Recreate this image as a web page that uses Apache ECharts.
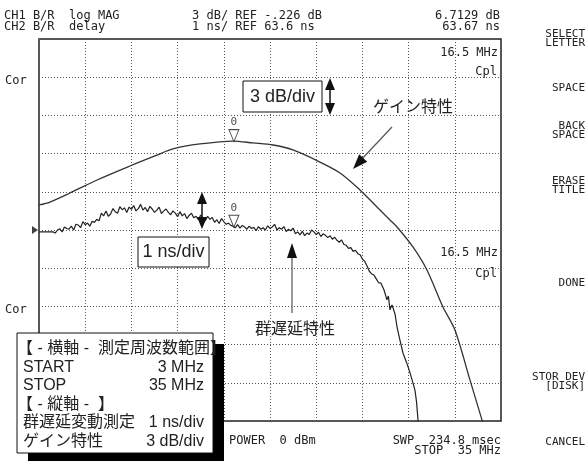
<!DOCTYPE html>
<html>
<head>
<meta charset="utf-8">
<script src="https://cdn.jsdelivr.net/npm/echarts@6/dist/echarts.min.js"></script>
<style>
  html, body { margin: 0; padding: 0; background: #fff; }
  #main { width: 587px; height: 461px; }
</style>
</head>
<body>
<div id="main"></div>
<script>
// sweep / scale settings
const startMHz = 3;
const stopMHz = 35;
const dbPerDiv = 3;
const nsPerDiv = 1;
const refGain = -0.226;   // dB at centre line
const refDelay = 63.6;    // ns at centre line

// marker 0 readout
const markerFreq = 16.5;
const markerGain = 6.7129;
const markerDelay = 63.67;

// CH1 gain trace (log MAG)
const gainFreq = [3.0, 3.76, 5.15, 7.02, 9.3, 11.03, 12.28, 14.15, 16.44, 17.82, 19.21, 20.59,
  22.46, 23.85, 25.23, 26.41, 27.31, 27.8, 28.9, 29.87, 30.98, 31.81, 32.85, 33.68, 34.24];
const gainDb = [1.74, 1.97, 2.68, 3.7, 4.8, 5.59, 6.14, 6.53, 6.76, 6.61, 6.45, 6.06,
  5.11, 4.25, 2.92, 1.58, 0.56, 0.01, -1.56, -3.37, -6.27, -8.08, -12.0, -15.14, -17.26];

// CH2 group delay trace
const delayFreq = [3.0, 3.32, 3.64, 3.96,
  4.12, 4.28, 4.44, 4.6, 4.76, 4.92, 5.08, 5.24, 5.4, 5.56,
  5.72, 5.88, 6.04, 6.2, 6.36, 6.52, 6.68, 6.84, 7.0, 7.16,
  7.32, 7.48, 7.64, 7.8, 7.96, 8.12, 8.28, 8.44, 8.6, 8.76,
  8.92, 9.08, 9.24, 9.4, 9.56, 9.72, 9.88, 10.04, 10.2, 10.36,
  10.52, 10.68, 10.84, 11.0, 11.16, 11.32, 11.48, 11.64, 11.8, 11.96,
  12.12, 12.28, 12.44, 12.6, 12.76, 12.92, 13.08, 13.24, 13.4, 13.56,
  13.72, 13.88, 14.04, 14.2, 14.36, 14.52, 14.68, 14.84, 15.0, 15.16,
  15.32, 15.48, 15.64, 15.8, 15.96, 16.12, 16.28, 16.44, 16.6, 16.76,
  16.92, 17.08, 17.24, 17.4, 17.56, 17.72, 17.88, 18.04, 18.2, 18.36,
  18.52, 18.68, 18.84, 19.0, 19.16, 19.32, 19.48, 19.64, 19.8, 19.96,
  20.12, 20.28, 20.44, 20.6, 20.76, 20.92, 21.08, 21.24, 21.4, 21.56,
  21.72, 21.88, 22.04, 22.2, 22.36, 22.52, 22.68, 22.84, 23.0, 23.16,
  23.32, 23.48, 23.64, 23.8, 23.96, 24.12, 24.28, 24.44, 24.6, 24.76,
  24.92, 25.08,
  25.24, 25.4, 25.56, 25.72, 25.88, 26.04, 26.2, 26.36, 26.52, 26.68,
  26.9, 27.1, 27.2, 27.31, 27.45, 27.66, 27.8, 28.0, 28.21, 28.45,
  28.7, 28.9, 29.04, 29.15, 29.25, 29.35];
const delayNs = [63.55, 63.55, 63.55, 63.55,
  63.52, 63.6, 63.63, 63.55, 63.68, 63.64, 63.62, 63.7, 63.6, 63.75,
  63.73, 63.66, 63.82, 63.74, 63.78, 63.7, 63.83, 63.8, 63.88, 63.84,
  64.04, 63.97, 64.1, 63.96, 64.02, 64.16, 64.08, 64.04, 64.21, 64.13,
  64.18, 64.06, 64.2, 64.14, 64.24, 64.1, 64.16, 64.27, 64.12, 64.19,
  64.08, 64.22, 64.15, 64.06, 64.12, 64.2, 64.03, 64.1, 64.15, 64.06,
  64.0, 64.1, 64.04, 63.95, 64.08, 63.97, 64.03, 63.9, 63.98, 64.04,
  63.92, 63.96, 63.87, 63.99, 63.9, 63.84, 63.96, 63.88, 63.93, 63.8,
  63.87, 63.77, 63.9, 63.82, 63.75, 63.78, 63.72, 63.7, 63.66, 63.74,
  63.65, 63.72, 63.68, 63.62, 63.7, 63.64, 63.67, 63.58, 63.69, 63.62,
  63.66, 63.6, 63.71, 63.64, 63.68, 63.75, 63.6, 63.66, 63.62, 63.69,
  63.56, 63.62, 63.58, 63.65, 63.5, 63.55, 63.47, 63.57, 63.45, 63.52,
  63.48, 63.6, 63.55, 63.48, 63.54, 63.43, 63.5, 63.46, 63.4, 63.45,
  63.36, 63.41, 63.33, 63.28, 63.34, 63.22, 63.2, 63.12, 63.14, 63.04,
  63.07, 62.98,
  62.95, 62.84, 62.78, 62.66, 62.52, 62.45, 62.42, 62.32, 62.22, 62.21,
  62.03, 61.77, 61.87, 61.51, 61.64, 61.4, 61.06, 60.72, 60.38, 60.14,
  59.86, 59.6, 59.41, 59.1, 58.63, 58.1];

// text block bottom-left
const noteRows = [
  ['【 - 横軸 -  測定周波数範囲】', ''],
  ['START', '3 MHz'],
  ['STOP', '35 MHz'],
  ['【 - 縦軸 -  】', ''],
  ['群遅延変動測定', '1 ns/div'],
  ['ゲイン特性', '3 dB/div']
];

// soft keys on the right
const softKeys = [
  ['SELECT\nLETTER', 39],
  ['SPACE', 88],
  ['BACK\nSPACE', 131],
  ['ERASE\nTITLE', 186],
  ['DONE', 283],
  ['STOR DEV\n[DISK]', 382],
  ['CANCEL', 442]
];

const gainData = gainFreq.map((f, i) => [f, gainDb[i]]);
const delayData = delayFreq.map((f, i) => [f, delayNs[i]]);

const mono = '12px "DejaVu Sans Mono", monospace';
const keyFont = '11px "DejaVu Sans Mono", monospace';
const jp = '16px "Liberation Sans", "Noto Sans CJK JP", sans-serif';
const ink = '#222';

function txt(text, x, y, font, align) {
  return {
    type: 'text', x: x, y: y, z: 100, silent: true,
    style: {
      text: text, font: font, fill: ink,
      textAlign: align || 'left', textVerticalAlign: 'middle', verticalAlign: 'middle'
    }
  };
}

// arrow head polygon with the tip at (tx,ty), coming from (fx,fy)
function head(tx, ty, fx, fy, len, half, color) {
  const dx = tx - fx, dy = ty - fy;
  const d = Math.sqrt(dx * dx + dy * dy);
  const ux = dx / d, uy = dy / d;
  const bx = tx - ux * len, by = ty - uy * len;
  return {
    type: 'polygon', z: 101, silent: true,
    shape: { points: [[tx, ty], [bx - uy * half, by + ux * half], [bx + uy * half, by - ux * half]] },
    style: { fill: color }
  };
}

function line(x1, y1, x2, y2, color, w) {
  return {
    type: 'line', z: 100, silent: true,
    shape: { x1: x1, y1: y1, x2: x2, y2: y2 },
    style: { stroke: color, lineWidth: w }
  };
}

const graphics = [];

// header
graphics.push(txt('CH1 B/R  log MAG', 4, 16, mono));
graphics.push(txt('CH2 B/R  delay', 4, 27, mono));
graphics.push(txt(dbPerDiv + ' dB/ REF -.226 dB', 192, 16, mono));
graphics.push(txt(nsPerDiv + ' ns/ REF ' + refDelay + ' ns', 192, 27, mono));
graphics.push(txt(markerGain + ' dB', 500, 16, mono, 'right'));
graphics.push(txt(markerDelay + ' ns', 500, 27, mono, 'right'));

// inside-plot labels
graphics.push(txt(markerFreq + ' MHz', 498, 53, mono, 'right'));
graphics.push(txt('Cpl', 497, 72, mono, 'right'));
graphics.push(txt(markerFreq + ' MHz', 498, 253, mono, 'right'));
graphics.push(txt('Cpl', 497, 274, mono, 'right'));
graphics.push(txt('Cor', 5, 81, mono));
graphics.push(txt('Cor', 5, 310, mono));

// footer
graphics.push(txt('POWER  0 dBm', 229, 441, mono));
graphics.push(txt('SWP  234.8 msec', 501, 441, mono, 'right'));
graphics.push(txt('STOP  ' + stopMHz + ' MHz', 501, 451, mono, 'right'));

// soft keys
softKeys.forEach(k => {
  const g = txt(k[0], 585, k[1], keyFont, 'right');
  g.style.lineHeight = 9;
  graphics.push(g);
});

// "3 dB/div" box + double arrow
graphics.push({ type: 'rect', z: 99, silent: true, shape: { x: 243, y: 81, width: 79, height: 31 },
  style: { fill: '#fff', stroke: '#111', lineWidth: 1 } });
graphics.push(txt('3 dB/div', 282.5, 97, '18px "Liberation Sans", sans-serif', 'center'));
graphics.push(line(330, 88, 330, 105, '#111', 1.5));
graphics.push(head(330, 78, 330, 115, 12, 5, '#111'));
graphics.push(head(330, 115, 330, 78, 12, 5, '#111'));

// "1 ns/div" box + double arrow
graphics.push({ type: 'rect', z: 99, silent: true, shape: { x: 138, y: 237, width: 71, height: 30 },
  style: { fill: '#fff', stroke: '#111', lineWidth: 1 } });
graphics.push(txt('1 ns/div', 173.5, 252, '18px "Liberation Sans", sans-serif', 'center'));
graphics.push(line(202, 202, 202, 219, '#111', 1.5));
graphics.push(head(202, 192, 202, 229, 12, 5, '#111'));
graphics.push(head(202, 229, 202, 192, 12, 5, '#111'));

// callouts
graphics.push(txt('ゲイン特性', 373, 108, jp));
graphics.push(line(392, 127, 360, 161, '#555', 1.2));
graphics.push(head(353, 169, 392, 127, 15, 5.5, '#111'));
graphics.push(txt('群遅延特性', 255, 330, jp));
graphics.push(line(292, 313, 292, 252, '#555', 1.2));
graphics.push(head(292, 243, 292, 313, 15, 5, '#111'));

// note block with drop shadow
graphics.push({ type: 'rect', z: 110, silent: true, shape: { x: 28, y: 344, width: 196, height: 120 },
  style: { fill: '#000' } });
graphics.push({ type: 'rect', z: 111, silent: true, shape: { x: 17, y: 333, width: 196, height: 120 },
  style: { fill: '#fff', stroke: '#111', lineWidth: 1 } });
noteRows.forEach((r, i) => {
  const y = 349 + i * 18.5;
  const left = r[0].charAt(0) === '【' ? 17 : 23;
  const a = txt(r[0], left, y, jp);
  a.z = 112;
  graphics.push(a);
  if (r[1]) {
    const b = txt(r[1], 204, y, jp, 'right');
    b.z = 112;
    graphics.push(b);
  }
});

const chart = echarts.init(document.getElementById('main'));

const dotted = { color: '#555', width: 1, type: [1, 2] };

chart.setOption({
  animation: false,
  backgroundColor: '#fff',
  grid: {
    left: 39, top: 39, right: 86, bottom: 40,
    show: true, borderColor: '#222', borderWidth: 1.5, backgroundColor: 'transparent'
  },
  xAxis: [
    {
      // 10 horizontal divisions
      type: 'value', min: 0, max: 10, interval: 1,
      axisLine: { show: false }, axisTick: { show: false }, axisLabel: { show: false },
      splitLine: { show: true, lineStyle: dotted }
    },
    { type: 'value', min: startMHz, max: stopMHz, show: false }
  ],
  yAxis: [
    {
      // 10 vertical divisions
      type: 'value', min: 0, max: 10, interval: 1,
      axisLine: { show: false }, axisTick: { show: false }, axisLabel: { show: false },
      splitLine: { show: true, lineStyle: dotted }
    },
    { type: 'value', min: refGain - 5 * dbPerDiv, max: refGain + 5 * dbPerDiv, show: false },
    { type: 'value', min: refDelay - 5 * nsPerDiv, max: refDelay + 5 * nsPerDiv, show: false }
  ],
  series: [
    {
      name: 'gain', type: 'line', xAxisIndex: 1, yAxisIndex: 1,
      data: gainData, showSymbol: false, smooth: 0.3, silent: true,
      lineStyle: { color: '#333', width: 1.3 }
    },
    {
      name: 'delay', type: 'line', xAxisIndex: 1, yAxisIndex: 2,
      data: delayData, showSymbol: false, silent: true,
      lineStyle: { color: '#222', width: 1.2 }
    },
    {
      name: 'gain marker', type: 'scatter', xAxisIndex: 1, yAxisIndex: 1,
      data: [[markerFreq, markerGain]], silent: true, z: 5,
      symbol: 'path://M0,0L10,0L5,12Z', symbolSize: [10, 12], symbolOffset: [0, -6],
      itemStyle: { color: '#fff', borderColor: '#222', borderWidth: 1 },
      label: { show: true, formatter: '0', position: 'top', distance: 1, color: ink,
        fontFamily: 'DejaVu Sans Mono', fontSize: 11 }
    },
    {
      name: 'delay marker', type: 'scatter', xAxisIndex: 1, yAxisIndex: 2,
      data: [[markerFreq, markerDelay]], silent: true, z: 5,
      symbol: 'path://M0,0L10,0L5,12Z', symbolSize: [10, 12], symbolOffset: [0, -6],
      itemStyle: { color: '#fff', borderColor: '#222', borderWidth: 1 },
      label: { show: true, formatter: '0', position: 'top', distance: 1, color: ink,
        fontFamily: 'DejaVu Sans Mono', fontSize: 11 }
    },
    {
      // reference position pointer on the left edge
      name: 'ref', type: 'scatter', xAxisIndex: 1, yAxisIndex: 2,
      data: [[startMHz, refDelay]], silent: true, clip: false, z: 5,
      symbol: 'path://M0,0L6,4L0,8Z', symbolSize: [6, 8], symbolOffset: [-4, 0],
      itemStyle: { color: '#111' }
    }
  ],
  graphic: { elements: graphics }
});
</script>
</body>
</html>
